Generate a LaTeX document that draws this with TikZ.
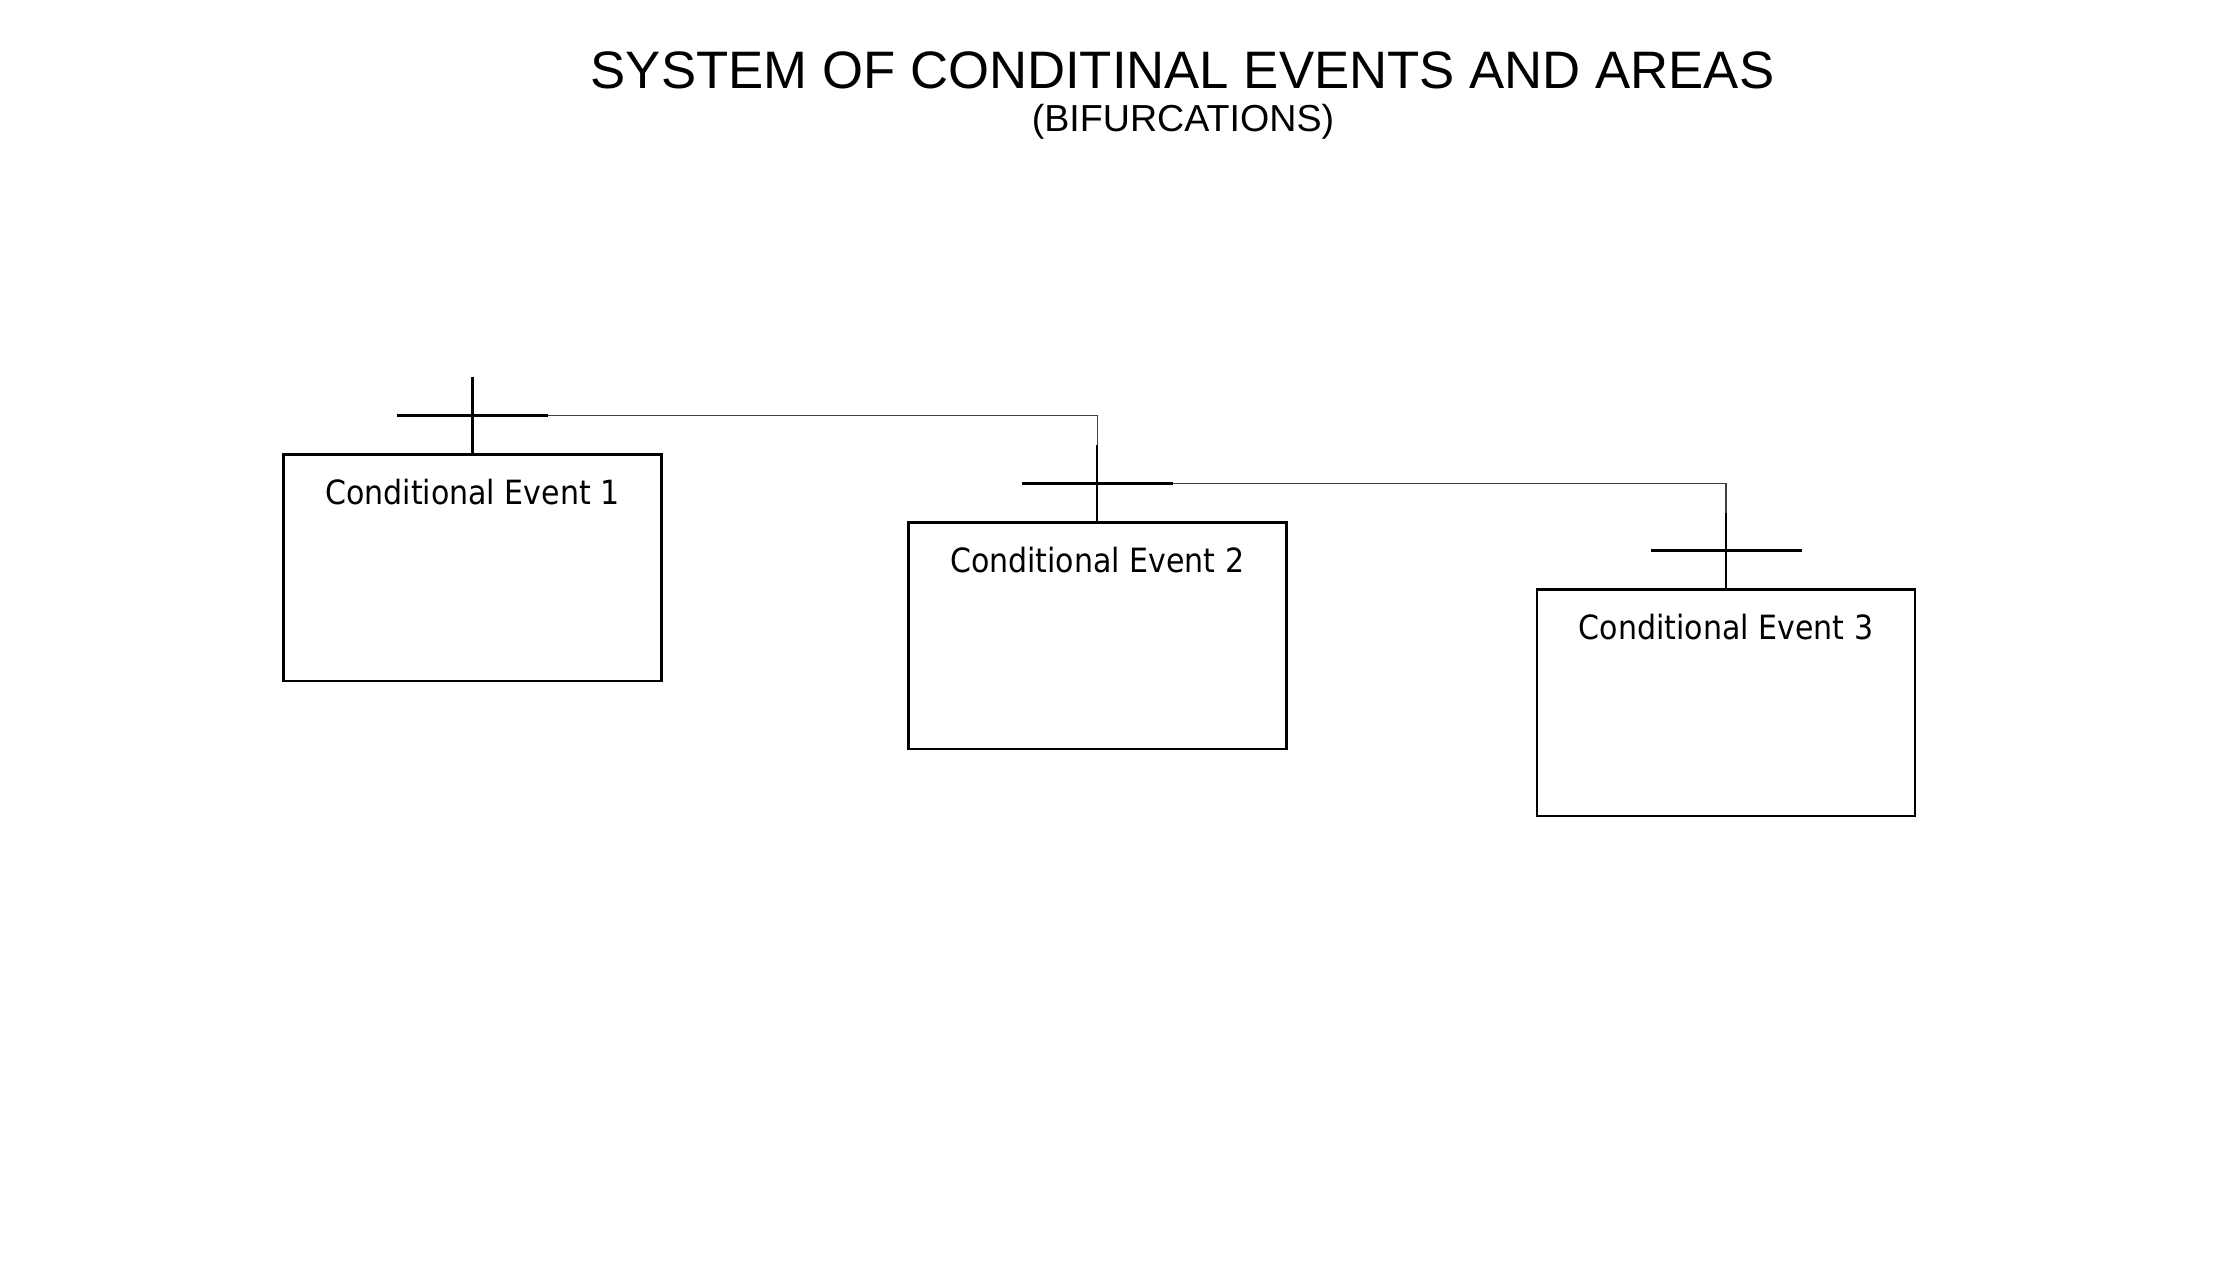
\documentclass[tikz,border=0pt]{standalone}
\usepackage{fontspec}
\setmainfont{Liberation Sans}
\newfontfamily\boxfont{DejaVu Sans Condensed}
\usetikzlibrary{positioning, calc}

\begin{document}
\begin{tikzpicture}[
    node distance=2.44cm,
    every node/.style={inner sep=0pt},
    eventbox/.style={rectangle, draw, line width=0.8pt, minimum width=3.78cm,
                     minimum height=2.265cm, text height=0.5cm, text depth=1.765cm,
                     font=\boxfont\fontsize{9.5}{11}\selectfont},
    crosspost/.style={line width=0.72pt},
    crossbar/.style={line width=1pt},
    link/.style={line width=0.4pt, color=black!75}
]
% Frame
\useasboundingbox (0,0) rectangle (22.30,12.66);

% Title
\node[anchor=base, font=\fontsize{15}{18}\selectfont] (title) at (11.825,11.777)
    {SYSTEM OF CONDITINAL EVENTS AND AREAS};
\node[anchor=base, font=\fontsize{10.7}{13}\selectfont] (subtitle) at (11.83,11.34)
    {(BIFURCATIONS)};

% Events
\node[eventbox, anchor=north west] (ev1) at (2.82,8.13) {Conditional Event 1};
\node[eventbox, right=of ev1, yshift=-6.8mm] (ev2) {Conditional Event 2};
\node[eventbox, right=2.48cm of ev2, yshift=-6.7mm] (ev3) {Conditional Event 3};

% Crosses
\foreach \i in {1,2,3} {
  \coordinate (top\i) at ($(ev\i.north)+(0,0.755)$);
  \coordinate (barL\i) at ($(ev\i.north)+(-0.755,0.375)$);
  \coordinate (barR\i) at ($(ev\i.north)+(0.755,0.375)$);
  \draw[crosspost] (top\i) -- (ev\i.north);
  \draw[crossbar] (barL\i) -- (barR\i);
}

% Links
\draw[link] (barR1) -| (top2);
\draw[link] (barR2) -| (top3);

\end{tikzpicture}
\end{document}
